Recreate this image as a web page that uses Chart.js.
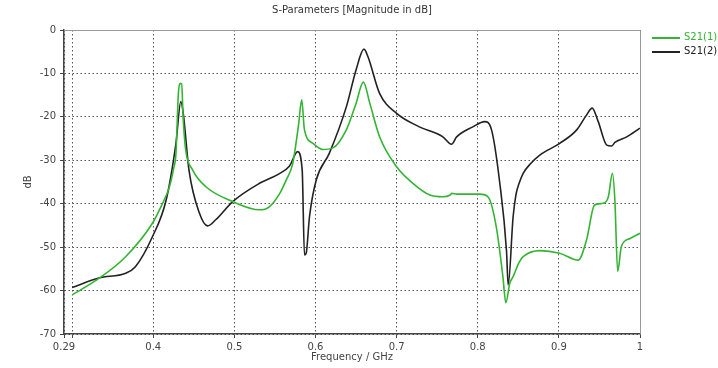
<!DOCTYPE html>
<html>
<head>
<meta charset="utf-8">
<script src="https://cdn.jsdelivr.net/npm/chart.js@4.4.1/dist/chart.umd.min.js"></script>
<style>
  html, body { margin: 0; padding: 0; background: #fff; }
  #wrap { position: relative; width: 718px; height: 368px; }
  #c { position: absolute; left: 0; top: 0; }
  .t { position: absolute; font-family: "DejaVu Sans", sans-serif; font-size: 10px; white-space: nowrap; }
  #title { left: 64px; width: 576px; top: 4px; text-align: center; color: #333; }
  .lg { position: absolute; left: 652px; width: 28px; height: 0; border-top: 2px solid; }
</style>
</head>
<body>
<div id="wrap">
  <canvas id="c" width="718" height="368"></canvas>
  <div id="title" class="t">S-Parameters [Magnitude in dB]</div>
  <div class="lg" style="top:37px;border-color:#33b533"></div>
  <div class="t" style="left:684px;top:31px;color:#33b533">S21(1)</div>
  <div class="lg" style="top:51px;border-color:#222"></div>
  <div class="t" style="left:684px;top:45px;color:#222">S21(2)</div>
</div>
<script>
// Frequency in GHz, magnitude in dB
const freq1 = [0.300,0.333,0.366,0.399,0.410,0.420,0.425,0.428,0.431,0.433,0.435,0.437,0.440,0.4485,0.465,0.498,0.531,0.543,0.556,0.564,0.572,0.579,0.583,0.5864,0.597,0.609,0.621,0.638,0.650,0.659,0.667,0.679,0.700,0.720,0.741,0.757,0.766,0.768,0.774,0.8025,0.813,0.823,0.831,0.8346,0.8395,0.8436,0.851,0.856,0.8765,0.901,0.924,0.934,0.944,0.9545,0.961,0.966,0.969,0.9725,0.977,0.9877,1.000];
const s21_1 = [-61.0,-57.2,-52.2,-44.5,-40.5,-36.1,-32.0,-28.4,-14.6,-12.3,-12.4,-20.7,-27.6,-32.2,-36.1,-39.5,-41.4,-40.7,-37.6,-34.5,-30.7,-22.0,-16.1,-23.0,-26.1,-27.5,-27.2,-23.0,-16.9,-12.0,-16.9,-24.6,-31.5,-35.3,-38.0,-38.4,-38.0,-37.6,-37.8,-37.8,-38.5,-45.5,-56.8,-62.8,-58.3,-56.8,-53.5,-52.2,-50.8,-51.4,-53.0,-48.4,-40.3,-39.9,-38.4,-33.0,-39.1,-55.6,-49.9,-48.0,-46.8];
const freq2 = [0.300,0.333,0.366,0.378,0.399,0.416,0.428,0.434,0.437,0.444,0.457,0.467,0.477,0.498,0.531,0.556,0.568,0.578,0.5836,0.5864,0.5885,0.5926,0.601,0.617,0.638,0.650,0.6597,0.6646,0.679,0.700,0.728,0.757,0.7676,0.774,0.794,0.8086,0.817,0.827,0.8355,0.8375,0.8436,0.847,0.851,0.856,0.865,0.8765,0.901,0.922,0.934,0.941,0.9485,0.959,0.965,0.969,0.9836,1.000];
const s21_2 = [-59.3,-57.1,-56.0,-54.5,-47.6,-39.1,-26.1,-16.5,-19.2,-32.2,-42.2,-45.1,-43.7,-39.5,-35.3,-33.0,-31.3,-28.0,-32.2,-51.8,-51.4,-43.0,-34.5,-28.4,-17.7,-9.2,-4.4,-6.1,-14.6,-19.2,-22.3,-24.6,-26.3,-24.6,-22.3,-21.1,-23.0,-35.0,-51.0,-58.7,-43.0,-38.0,-35.3,-33.0,-30.8,-28.8,-26.1,-23.0,-19.6,-18.0,-21.1,-26.5,-26.7,-25.9,-24.6,-22.6];
const xTicks = [0.29,0.3,0.4,0.5,0.6,0.7,0.8,0.9,1.0];
const xTickLabels = ['0.29','','0.4','0.5','0.6','0.7','0.8','0.9','1'];
const yTicks = [0,-10,-20,-30,-40,-50,-60,-70];

const toPts = (xs, ys) => xs.map((x, i) => ({x: x, y: ys[i]}));

const frame = {
  id: 'frame',
  afterDatasetsDraw(chart) {
    const {ctx, chartArea: a} = chart;
    ctx.save();
    ctx.strokeStyle = '#999';
    ctx.lineWidth = 1;
    ctx.beginPath();
    ctx.moveTo(a.left, a.top + 0.5);
    ctx.lineTo(a.right + 0.5, a.top + 0.5);
    ctx.lineTo(a.right + 0.5, a.bottom);
    ctx.stroke();
    ctx.restore();
  }
};

const font = {family: 'DejaVu Sans', size: 10};

new Chart(document.getElementById('c'), {
  type: 'line',
  data: {
    datasets: [
      {label: 'S21(1)', data: toPts(freq1, s21_1), borderColor: '#33b533', borderWidth: 1.6, pointRadius: 0, cubicInterpolationMode: 'monotone', fill: false},
      {label: 'S21(2)', data: toPts(freq2, s21_2), borderColor: '#222', borderWidth: 1.6, pointRadius: 0, cubicInterpolationMode: 'monotone', fill: false}
    ]
  },
  options: {
    responsive: false,
    animation: false,
    layout: {padding: {top: 30, right: 78, left: 0, bottom: 0}},
    plugins: {legend: {display: false}, title: {display: false}, tooltip: {enabled: false}},
    scales: {
      x: {
        type: 'linear', min: 0.29, max: 1.0,
        afterBuildTicks: s => { s.ticks = xTicks.map(v => ({value: v})); },
        afterFit: s => { s.height = 34; },
        ticks: {autoSkip: false, maxRotation: 0, color: '#444', font: font, padding: 3,
          callback: (v, i) => xTickLabels[i]},
        grid: {color: '#555', lineWidth: 1, tickLength: 4, tickColor: '#444', tickBorderDash: []},
        border: {color: '#444', width: 1.5, dash: [1.5, 2.5]},
        title: {display: true, text: 'Frequency / GHz', color: '#444', font: font, padding: 5}
      },
      y: {
        type: 'linear', min: -70, max: 0,
        afterBuildTicks: s => { s.ticks = yTicks.map(v => ({value: v})); },
        afterFit: s => { s.width = 64; },
        ticks: {color: '#444', font: font, padding: 4},
        grid: {color: '#555', lineWidth: 1, tickLength: 4, tickColor: '#444', tickBorderDash: []},
        border: {color: '#444', width: 1.5, dash: [1.5, 2.5]},
        title: {display: true, text: 'dB', color: '#444', font: font, padding: 22}
      }
    }
  },
  plugins: [frame]
});
</script>
</body>
</html>
